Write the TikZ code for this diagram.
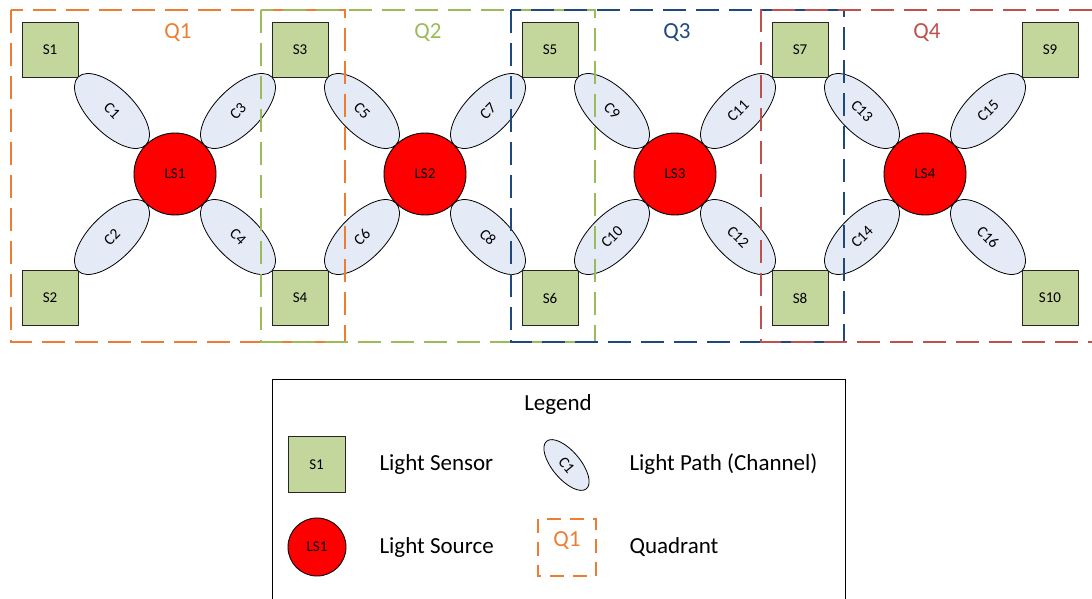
\documentclass[tikz,border=0pt]{standalone}
\usepackage{fontspec}
\setmainfont{Carlito}
\usetikzlibrary{shapes.geometric}
\definecolor{qorange}{HTML}{ED7D31}
\definecolor{qgreen}{HTML}{9BBB59}
\definecolor{qblue}{HTML}{1F497D}
\definecolor{qred}{HTML}{C0504D}
\definecolor{sensorfill}{HTML}{C3D69B}
\definecolor{chanfill}{HTML}{E4EBF6}
\begin{document}
\begin{tikzpicture}[x=1pt,y=-1pt,
  sensor/.style={draw=black!85, line width=0.9pt, fill=sensorfill, minimum width=56pt, minimum height=55pt, inner sep=0pt, font=\fontsize{15}{18}\selectfont},
  source/.style={circle, draw=black, line width=0.9pt, fill=red, minimum size=82pt, inner sep=0pt, font=\fontsize{15}{18}\selectfont},
  chan/.style={ellipse, draw=black, line width=0.8pt, fill=chanfill, minimum width=96pt, minimum height=45pt, inner sep=0pt, font=\fontsize{15.5}{18}\selectfont},
  quad/.style={dash pattern=on 23pt off 10pt, line width=2.8pt},
  qlabel/.style={font=\fontsize{23}{28}\selectfont},
  legtext/.style={anchor=west, font=\fontsize{23}{27}\selectfont}]
\useasboundingbox (0,0) rectangle (1092,599);
% sensors
\foreach \k in {1,...,5} {
  \pgfmathsetmacro{\sx}{50+250*(\k-1)}
  \pgfmathtruncatemacro{\ta}{2*\k-1}
  \pgfmathtruncatemacro{\tb}{2*\k}
  \node[sensor] (S\ta) at (\sx,49.5) {S\ta};
  \node[sensor] (S\tb) at (\sx,298) {S\tb};
}
% sources and channels
\foreach \k in {1,...,4} {
  \pgfmathsetmacro{\cx}{175+250*(\k-1)}
  \pgfmathtruncatemacro{\ca}{4*\k-3}
  \pgfmathtruncatemacro{\cb}{4*\k-2}
  \pgfmathtruncatemacro{\cc}{4*\k-1}
  \pgfmathtruncatemacro{\cd}{4*\k}
  \node[chan, rotate=-45] (C\ca) at (\cx-63,111) {C\ca};
  \node[chan, rotate=45] (C\cb) at (\cx-63,237) {C\cb};
  \node[chan, rotate=45] (C\cc) at (\cx+63,111) {C\cc};
  \node[chan, rotate=-45] (C\cd) at (\cx+63,237) {C\cd};
  \node[source] (LS\k) at (\cx,174) {LS\k};
}
% quadrants
\draw[quad, qorange] (11,10) rectangle (345,342);
\draw[quad, qgreen] (261,10) rectangle (595,342);
\draw[quad, qblue] (511,10) rectangle (844,342);
\draw[quad, qred] (1092,10) -- (761,10) -- (761,342) -- (1092,342);
\node[qlabel, text=qorange] (Q1) at (178,33) {Q1};
\node[qlabel, text=qgreen] (Q2) at (428,33) {Q2};
\node[qlabel, text=qblue] (Q3) at (677,33) {Q3};
\node[qlabel, text=qred] (Q4) at (927,33) {Q4};
% legend
\draw[line width=1pt, black] (272,599) -- (272,379) -- (845,379) -- (845,599);
\node[font=\fontsize{23}{27}\selectfont] (legend) at (558,404) {Legend};
\node[sensor, minimum width=57pt, minimum height=56pt] (legS) at (316.5,464.5) {S1};
\node[legtext] (legSt) at (376,464) {Light Sensor};
\node[chan, minimum width=62pt, minimum height=28pt, rotate=-50] (legC) at (566.5,465) {C1};
\node[legtext] (legCt) at (626,464) {Light Path (Channel)};
\node[source, minimum size=58pt] (legLS) at (317,547) {LS1};
\node[legtext] (legLSt) at (376,547) {Light Source};
\draw[quad, qorange, line width=2.4pt, dash pattern=on 14pt off 9pt] (538,519) rectangle (596,576);
\node[qlabel, text=qorange] (legQ) at (567,541) {Q1};
\node[legtext] (legQt) at (626,547) {Quadrant};
\end{tikzpicture}
\end{document}
